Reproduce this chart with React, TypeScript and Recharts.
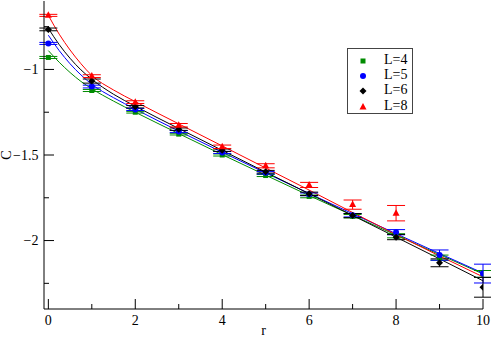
import React from 'react';
import { ComposedChart, Scatter, Line, XAxis, YAxis, ErrorBar, Label } from 'recharts';

// ---- data ----
const rPoints = [0, 1, 2, 3, 4, 5, 6, 7, 8, 9, 10];
const rPointsL8 = [0, 1, 2, 3, 4, 5, 6, 7, 8];

const cL4 = [-0.93, -1.123, -1.25, -1.378, -1.5, -1.62, -1.742, -1.858, -1.972, -2.1, -2.195];
const eL4 = [0.006, 0.006, 0.005, 0.005, 0.006, 0.006, 0.008, 0.01, 0.012, 0.015, 0.02];
const cL5 = [-0.848, -1.1, -1.234, -1.363, -1.485, -1.604, -1.73, -1.852, -1.951, -2.085, -2.193];
const eL5 = [0.006, 0.008, 0.006, 0.006, 0.006, 0.007, 0.008, 0.01, 0.015, 0.03, 0.055];
const cL6 = [-0.766, -1.068, -1.218, -1.349, -1.472, -1.598, -1.727, -1.854, -1.98, -2.13, -2.273];
const eL6 = [0.008, 0.012, 0.007, 0.007, 0.007, 0.008, 0.01, 0.012, 0.015, 0.023, 0.058];
const cL8 = [-0.684, -1.039, -1.191, -1.326, -1.452, -1.563, -1.675, -1.79, -1.84];
const eL8 = [0.006, 0.008, 0.008, 0.01, 0.01, 0.012, 0.015, 0.027, 0.045];

// fitted curves
const rCurve = [0, 0.25, 0.5, 0.75, 1, 1.5, 2, 3, 4, 5, 6, 7, 8, 9, 10];
const fitL4 = [-0.89, -0.958, -1.018, -1.07, -1.113, -1.185, -1.25, -1.375, -1.498, -1.618, -1.737, -1.853, -1.968, -2.082, -2.195];
const fitL5 = [-0.8, -0.89, -0.967, -1.032, -1.087, -1.165, -1.232, -1.36, -1.484, -1.605, -1.725, -1.843, -1.96, -2.076, -2.19];
const fitL6 = [-0.76, -0.855, -0.935, -1.0025, -1.0575, -1.145, -1.215, -1.345, -1.473, -1.6, -1.726, -1.853, -1.98, -2.107, -2.235];
const fitL8 = [-0.684, -0.794, -0.8865, -0.9665, -1.035, -1.12, -1.188, -1.318, -1.447, -1.576, -1.705, -1.836, -1.965, -2.09, -2.212];

const seriesNames = ['L=4', 'L=5', 'L=6', 'L=8'];
const seriesColors = ['#008b00', '#0000ff', '#000000', '#ff0000'];

const xTicks = [0, 1, 2, 3, 4, 5, 6, 7, 8, 9, 10];
const yTicks = [-2.25, -2, -1.75, -1.5, -1.25, -1, -0.75];
const xDomain = [-0.1, 10];
const yDomain = [-2.4, -0.6];

// ---- helpers ----
const FONT = '"Liberation Serif", "Times New Roman", serif';
const fmt = (v: number) => String(v).replace('-', '\u2212');
const isMajorX = (v: number) => v % 2 === 0;
const isMajorY = (v: number) => Math.abs(v * 2 - Math.round(v * 2)) < 1e-6;

const pts = (rs: number[], cs: number[], es: number[]) => rs.map((r, i) => ({ r, c: cs[i], e: es[i] }));
const curve = (cs: number[]) => rCurve.map((r, i) => ({ r, c: cs[i] }));

const BottomTick = (p: any) => {
  const v = p.payload.value;
  const major = isMajorX(v);
  return (
    <g>
      <line x1={p.x} x2={p.x} y1={p.y} y2={p.y - (major ? 10 : 5)} stroke="#000" strokeWidth={1} />
      {major && (
        <text x={p.x} y={p.y + 16} textAnchor="middle" fontFamily={FONT} fontSize={14} fill="#000">
          {fmt(v)}
        </text>
      )}
    </g>
  );
};
const TopTick = (p: any) => {
  const major = isMajorX(p.payload.value);
  return <line x1={p.x} x2={p.x} y1={p.y} y2={p.y + (major ? 10 : 5)} stroke="#000" strokeWidth={1} />;
};
const LeftTick = (p: any) => {
  const v = p.payload.value;
  const major = isMajorY(v);
  return (
    <g>
      <line x1={p.x} x2={p.x + (major ? 10 : 5)} y1={p.y} y2={p.y} stroke="#000" strokeWidth={1} />
      {major && (
        <text x={p.x - 5.5} y={p.y} dy="0.35em" textAnchor="end" fontFamily={FONT} fontSize={14} fill="#000">
          {fmt(v)}
        </text>
      )}
    </g>
  );
};
const RightTick = (p: any) => {
  const major = isMajorY(p.payload.value);
  return <line x1={p.x} x2={p.x - (major ? 10 : 5)} y1={p.y} y2={p.y} stroke="#000" strokeWidth={1} />;
};

const SquareShape = (p: any) => <rect x={p.cx - 2.5} y={p.cy - 2.5} width={5} height={5} fill={seriesColors[0]} />;
const CircleShape = (p: any) => <circle cx={p.cx} cy={p.cy} r={3} fill={seriesColors[1]} />;
const DiamondShape = (p: any) => (
  <polygon points={`${p.cx},${p.cy - 3.5} ${p.cx + 3.5},${p.cy} ${p.cx},${p.cy + 3.5} ${p.cx - 3.5},${p.cy}`} fill={seriesColors[2]} />
);
const TriangleShape = (p: any) => (
  <polygon points={`${p.cx},${p.cy - 4} ${p.cx + 3.5},${p.cy + 2.5} ${p.cx - 3.5},${p.cy + 2.5}`} fill={seriesColors[3]} />
);

const legendSymbols = [
  <rect x={3.5} y={3.5} width={5} height={5} fill={seriesColors[0]} />,
  <circle cx={6} cy={6} r={3} fill={seriesColors[1]} />,
  <polygon points="6,2.5 9.5,6 6,9.5 2.5,6" fill={seriesColors[2]} />,
  <polygon points="6,2 9.5,8.5 2.5,8.5" fill={seriesColors[3]} />,
];

export default function App() {
  const scatterData = [
    pts(rPoints, cL4, eL4),
    pts(rPoints, cL5, eL5),
    pts(rPoints, cL6, eL6),
    pts(rPointsL8, cL8, eL8),
  ];
  const fits = [fitL4, fitL5, fitL6, fitL8];
  const shapes = [SquareShape, CircleShape, DiamondShape, TriangleShape];

  return (
    <div style={{ position: 'absolute', left: 0, top: 0, width: 491, height: 338, background: '#fff' }}>
      <ComposedChart width={491} height={338} margin={{ top: 1, right: 8, bottom: 0, left: 0 }}>
        <XAxis
          xAxisId="b"
          dataKey="r"
          type="number"
          domain={xDomain}
          ticks={xTicks}
          interval={0}
          allowDataOverflow
          height={29}
          tickSize={0}
          tickMargin={0}
          tickLine={false}
          tick={BottomTick}
          axisLine={{ stroke: '#000', strokeWidth: 1 }}
        >
          <Label
            content={(lp: any) => (
              <text
                x={lp.viewBox.x + lp.viewBox.width / 2}
                y={lp.viewBox.y + lp.viewBox.height - 3}
                textAnchor="middle"
                fontFamily={FONT}
                fontSize={14}
                fill="#000"
              >
                r
              </text>
            )}
          />
        </XAxis>
        <XAxis
          xAxisId="t"
          orientation="top"
          dataKey="r"
          type="number"
          domain={xDomain}
          ticks={xTicks}
          interval={0}
          allowDataOverflow
          height={0}
          tickSize={0}
          tickMargin={0}
          tickLine={false}
          tick={TopTick}
          axisLine={{ stroke: '#000', strokeWidth: 1 }}
        />
        <YAxis
          yAxisId="l"
          type="number"
          domain={yDomain}
          ticks={yTicks}
          interval={0}
          allowDataOverflow
          width={44}
          tickSize={0}
          tickMargin={0}
          tickLine={false}
          tick={LeftTick}
          axisLine={{ stroke: '#000', strokeWidth: 1 }}
        >
          <Label
            content={(lp: any) => {
              const cx = 11;
              const cy = lp.viewBox.y + lp.viewBox.height / 2;
              return (
                <text x={cx} y={cy} transform={`rotate(-90, ${cx}, ${cy})`} textAnchor="middle" fontFamily={FONT} fontSize={14} fill="#000">
                  C
                </text>
              );
            }}
          />
        </YAxis>
        <YAxis
          yAxisId="r"
          orientation="right"
          type="number"
          domain={yDomain}
          ticks={yTicks}
          interval={0}
          allowDataOverflow
          width={0}
          tickSize={0}
          tickMargin={0}
          tickLine={false}
          tick={RightTick}
          axisLine={{ stroke: '#000', strokeWidth: 1 }}
        />
        {fits.map((f, i) => (
          <Line
            key={'fit' + i}
            xAxisId="b"
            yAxisId="l"
            data={curve(f)}
            dataKey="c"
            type="monotone"
            dot={false}
            activeDot={false}
            stroke={seriesColors[i]}
            strokeWidth={1}
            isAnimationActive={false}
          />
        ))}
        {scatterData.map((d, i) => (
          <Scatter
            key={'pts' + i}
            xAxisId="b"
            yAxisId="l"
            name={seriesNames[i]}
            data={d}
            dataKey="c"
            shape={shapes[i]}
            isAnimationActive={false}
          >
            <ErrorBar dataKey="e" direction="y" width={9} stroke={seriesColors[i]} strokeWidth={1} />
          </Scatter>
        ))}
      </ComposedChart>
      <div
        style={{
          position: 'absolute',
          left: 347,
          top: 48,
          width: 66,
          height: 66,
          border: '1px solid #444',
          boxSizing: 'border-box',
          background: '#fff',
          fontFamily: FONT,
          fontSize: 14,
        }}
      >
        {seriesNames.map((n, i) => (
          <div key={n} style={{ position: 'absolute', left: 0, top: 3.5 + i * 15.4, height: 16, width: 64 }}>
            <svg width={12} height={12} style={{ position: 'absolute', left: 9, top: 2 }}>
              {legendSymbols[i]}
            </svg>
            <span style={{ position: 'absolute', left: 36, top: -1, lineHeight: '16px', whiteSpace: 'nowrap' }}>{n}</span>
          </div>
        ))}
      </div>
    </div>
  );
}
